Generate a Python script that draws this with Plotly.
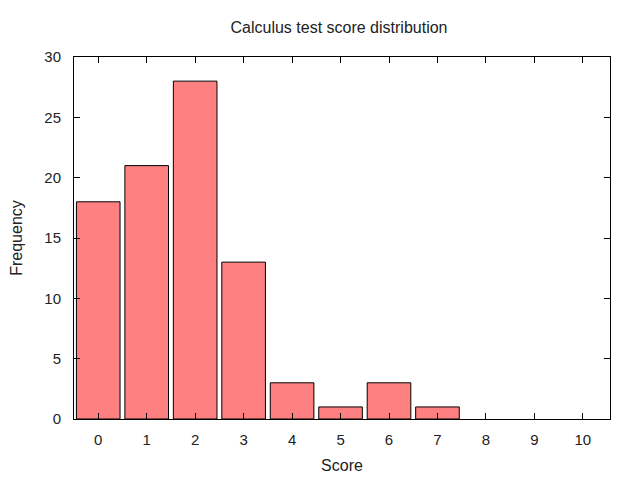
import plotly.graph_objects as go

scores = [0, 1, 2, 3, 4, 5, 6, 7, 8, 9, 10]
frequency = [18, 21, 28, 13, 3, 1, 3, 1, 0, 0, 0]
y_ticks = [0, 5, 10, 15, 20, 25, 30]

line_widths = [1 if v > 0 else 0 for v in frequency]

fig = go.Figure(
    go.Bar(
        x=scores,
        y=frequency,
        marker=dict(color="#FF8080", line=dict(color="black", width=line_widths)),
        width=0.9,
    )
)

font = "Liberation Sans, Arial, sans-serif"
fig.update_layout(
    width=640,
    height=480,
    margin=dict(l=66, r=38, t=49, b=69, autoexpand=False),
    plot_bgcolor="white",
    paper_bgcolor="white",
    showlegend=False,
    font=dict(family=font, size=14, color="#222"),
    title=dict(
        text="Calculus test score distribution",
        x=331 / 640,
        xanchor="center",
        y=1 - 19 / 480,
        yanchor="middle",
        font=dict(size=16, color="#222"),
        automargin=False,
    ),
)
fig.update_xaxes(
    range=[-0.5, 10.56],
    tickmode="array",
    tickvals=scores,
    ticktext=[str(s) for s in scores],
    ticks="inside",
    ticklen=6,
    tickcolor="black",
    showline=True,
    linecolor="black",
    linewidth=1,
    mirror="ticks",
    showgrid=False,
    zeroline=False,
    automargin=False,
    ticklabelstandoff=7,
    title=dict(text="Score", standoff=12, font=dict(size=16)),
    tickfont=dict(size=15),
)
fig.update_yaxes(
    range=[0, 30],
    tickmode="array",
    tickvals=y_ticks,
    ticks="inside",
    ticklen=6,
    tickcolor="black",
    showline=True,
    linecolor="black",
    linewidth=1,
    mirror="ticks",
    showgrid=False,
    zeroline=False,
    automargin=False,
    ticklabelstandoff=9,
    title=dict(text="Frequency", standoff=25, font=dict(size=16)),
    tickfont=dict(size=15),
)

fig.write_html("out.html")
